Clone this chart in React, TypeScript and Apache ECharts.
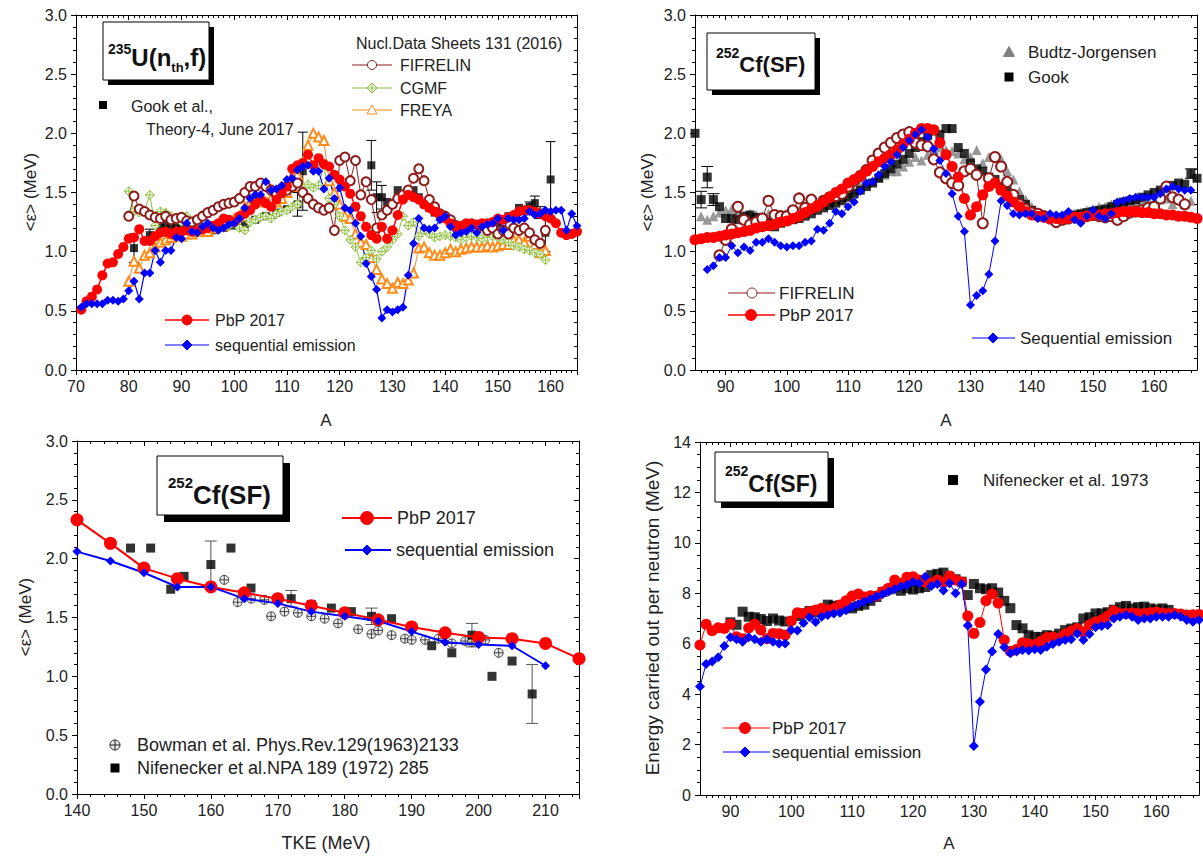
import React, { useEffect, useRef } from "react";
import * as echarts from "echarts";

const FONT = '"Liberation Sans", Arial, Helvetica, sans-serif';
const INK = "#222";
const RED = "#ff0000";
const BLUE = "#0000ff";
const BROWN = "#8c1c1c";
const GREEN = "#8dc03a";
const ORANGE = "#ff8c1a";
const GRAY = "#808080";

// ---------- 235U(nth,f): <eps> vs mass number A ----------
const u235PbP = [[71,0.51],[72,0.58],[73,0.62],[74,0.68],[75,0.80],[76,0.90],[77,0.91],[78,0.98],[79,1.04],[80,1.11],[81,1.12],[82,1.19],[83,1.09],[84,1.09],[85,1.13],[86,1.16],[87,1.17],[88,1.15],[89,1.17],[90,1.17],[91,1.18],[92,1.17],[93,1.18],[94,1.19],[95,1.20],[96,1.22],[97,1.24],[98,1.28],[99,1.27],[100,1.25],[101,1.30],[102,1.32],[103,1.35],[104,1.40],[105,1.44],[106,1.41],[107,1.38],[108,1.44],[109,1.50],[110,1.55],[111,1.70],[112,1.73],[113,1.75],[114,1.82],[115,1.73],[116,1.79],[117,1.74],[118,1.72],[119,1.65],[120,1.61],[121,1.55],[122,1.49],[123,1.38],[124,1.30],[125,1.21],[126,1.14],[127,1.11],[128,1.21],[129,1.11],[130,1.18],[131,1.31],[132,1.44],[133,1.48],[134,1.46],[135,1.44],[136,1.40],[137,1.37],[138,1.34],[139,1.31],[140,1.28],[141,1.24],[142,1.21],[143,1.22],[144,1.24],[145,1.24],[146,1.23],[147,1.24],[148,1.24],[149,1.25],[150,1.28],[151,1.27],[152,1.29],[153,1.31],[154,1.34],[155,1.35],[156,1.35],[157,1.34],[158,1.32],[159,1.30],[160,1.28],[161,1.24],[162,1.16],[163,1.14],[164,1.15],[165,1.17]];
const u235Seq = [[71,0.53],[72,0.56],[73,0.56],[74,0.56],[75,0.56],[76,0.59],[77,0.59],[78,0.58],[79,0.60],[80,0.67],[81,0.75],[82,0.60],[83,0.82],[84,0.82],[85,1.01],[86,0.91],[87,1.01],[88,1.01],[89,1.12],[90,1.11],[91,1.24],[92,1.17],[93,1.16],[94,1.21],[95,1.24],[96,1.20],[97,1.18],[98,1.20],[99,1.23],[100,1.24],[101,1.28],[102,1.37],[103,1.45],[104,1.48],[105,1.48],[106,1.59],[107,1.52],[108,1.53],[109,1.56],[110,1.61],[111,1.62],[112,1.69],[113,1.72],[114,1.73],[115,1.68],[116,1.68],[117,1.53],[118,1.62],[119,1.45],[120,1.54],[121,1.37],[122,1.35],[123,1.24],[124,1.13],[125,0.90],[126,0.79],[127,0.68],[128,0.44],[129,0.51],[130,0.49],[131,0.51],[132,0.53],[133,0.80],[134,1.07],[135,1.28],[136,1.20],[137,1.19],[138,1.20],[139,1.27],[140,1.30],[141,1.21],[142,1.14],[143,1.16],[144,1.17],[145,1.20],[146,1.16],[147,1.21],[148,1.23],[149,1.24],[150,1.28],[151,1.18],[152,1.28],[153,1.27],[154,1.27],[155,1.28],[156,1.34],[157,1.31],[158,1.32],[159,1.35],[160,1.34],[161,1.35],[162,1.35],[163,1.18],[164,1.32],[165,1.22]];
const u235Fifrelin = [[80,1.30],[81,1.47],[82,1.36],[83,1.34],[84,1.31],[85,1.29],[86,1.28],[87,1.30],[88,1.27],[89,1.28],[90,1.29],[91,1.26],[92,1.25],[93,1.27],[94,1.30],[95,1.33],[96,1.35],[97,1.38],[98,1.40],[99,1.41],[100,1.42],[101,1.45],[102,1.50],[103,1.55],[104,1.55],[105,1.58],[106,1.55],[107,1.52],[108,1.48],[109,1.50],[110,1.52],[111,1.55],[112,1.58],[113,1.50],[114,1.45],[115,1.40],[116,1.37],[117,1.35],[118,1.37],[119,1.18],[120,1.77],[121,1.80],[122,1.60],[123,1.77],[124,1.48],[125,1.59],[126,1.44],[127,1.20],[128,1.31],[129,1.35],[130,1.40],[131,1.45],[132,1.48],[133,1.52],[134,1.62],[135,1.70],[136,1.60],[137,1.44],[138,1.38],[139,1.32],[140,1.30],[141,1.27],[142,1.22],[143,1.20],[144,1.22],[145,1.23],[146,1.20],[147,1.22],[148,1.18],[149,1.20],[150,1.15],[151,1.18],[152,1.15],[153,1.20],[154,1.18],[155,1.20],[156,1.16],[157,1.10],[158,1.07],[159,1.18]];
const u235Cgmf = [[80,1.51],[81,1.34],[82,1.33],[83,1.35],[84,1.48],[85,1.22],[86,1.34],[87,1.33],[88,1.30],[89,1.28],[90,1.25],[91,1.30],[92,1.22],[93,1.20],[94,1.22],[95,1.20],[96,1.22],[97,1.22],[98,1.23],[99,1.22],[100,1.24],[101,1.20],[102,1.18],[103,1.25],[104,1.27],[105,1.29],[106,1.30],[107,1.28],[108,1.32],[109,1.34],[110,1.35],[111,1.38],[112,1.40],[113,1.55],[114,1.57],[115,1.54],[116,1.56],[117,1.73],[118,1.45],[119,1.40],[120,1.30],[121,1.18],[122,1.10],[123,1.04],[124,0.91],[125,0.95],[126,1.01],[127,0.94],[128,1.00],[129,1.04],[130,1.10],[131,1.15],[132,1.30],[133,1.22],[134,1.25],[135,1.13],[136,1.18],[137,1.15],[138,1.12],[139,1.13],[140,1.14],[141,1.13],[142,1.12],[143,1.10],[144,1.12],[145,1.13],[146,1.12],[147,1.11],[148,1.12],[149,1.13],[150,1.12],[151,1.10],[152,1.08],[153,1.05],[154,1.04],[155,1.02],[156,1.01],[157,0.99],[158,0.98],[159,0.93]];
const u235Freya = [[80,0.75],[81,0.92],[82,0.86],[83,0.97],[84,0.99],[85,1.04],[86,1.08],[87,1.10],[88,1.12],[89,1.14],[90,1.13],[91,1.15],[92,1.15],[93,1.17],[94,1.18],[95,1.17],[96,1.20],[97,1.21],[98,1.22],[99,1.25],[100,1.28],[101,1.30],[102,1.38],[103,1.40],[104,1.43],[105,1.45],[106,1.42],[107,1.45],[108,1.42],[109,1.45],[110,1.50],[111,1.55],[112,1.65],[113,1.75],[114,1.90],[115,2.00],[116,1.97],[117,1.94],[118,1.60],[119,1.50],[120,1.40],[121,1.30],[122,1.28],[123,1.15],[124,1.08],[125,1.06],[126,0.95],[127,0.85],[128,0.77],[129,0.73],[130,0.69],[131,0.74],[132,0.73],[133,0.76],[134,0.82],[135,1.03],[136,1.04],[137,0.99],[138,0.97],[139,0.97],[140,0.99],[141,1.02],[142,1.00],[143,1.02],[144,1.03],[145,1.04],[146,1.04],[147,1.04],[148,1.05],[149,1.04],[150,1.05],[151,1.06],[152,1.06],[153,1.10],[154,1.10],[155,1.08],[156,1.13],[157,1.06],[158,0.99],[159,1.01]];
// [A, <eps>, uncertainty]
const u235Gook = [[81,1.03,0.12],[84,1.14,0.05],[86,1.20,0],[87,1.24,0],[88,1.22,0],[89,1.20,0],[90,1.21,0],[92,1.21,0],[94,1.18,0],[96,1.18,0],[98,1.20,0],[100,1.22,0],[102,1.23,0],[104,1.27,0],[106,1.30,0],[108,1.33,0],[110,1.36,0],[112,1.40,0.10],[113,1.68,0.33],[126,1.73,0.21],[127,1.46,0.13],[128,1.46,0.10],[129,1.42,0],[130,1.40,0],[131,1.52,0],[132,1.48,0],[133,1.50,0],[134,1.52,0],[135,1.46,0],[136,1.40,0],[137,1.37,0],[138,1.33,0],[140,1.28,0],[142,1.22,0],[144,1.21,0],[146,1.20,0],[148,1.22,0],[150,1.24,0],[152,1.30,0],[154,1.37,0],[156,1.38,0.04],[157,1.41,0.06],[158,1.33,0.05],[159,1.16,0.16],[160,1.61,0.32]];

// ---------- 252Cf(SF): <eps> vs mass number A ----------
const cf252PbP = [[85,1.10],[86,1.11],[87,1.12],[88,1.12],[89,1.13],[90,1.14],[91,1.15],[92,1.16],[93,1.17],[94,1.18],[95,1.20],[96,1.21],[97,1.22],[98,1.23],[99,1.25],[100,1.26],[101,1.28],[102,1.30],[103,1.33],[104,1.36],[105,1.39],[106,1.42],[107,1.46],[108,1.50],[109,1.53],[110,1.58],[111,1.61],[112,1.64],[113,1.68],[114,1.72],[115,1.76],[116,1.79],[117,1.82],[118,1.86],[119,1.91],[120,1.95],[121,2.00],[122,2.04],[123,2.04],[124,2.03],[125,1.92],[126,1.82],[127,1.72],[128,1.63],[129,1.45],[130,1.31],[131,1.38],[132,1.48],[133,1.55],[134,1.58],[135,1.52],[136,1.47],[137,1.42],[138,1.38],[139,1.34],[140,1.31],[141,1.30],[142,1.29],[143,1.28],[144,1.28],[145,1.28],[146,1.28],[147,1.29],[148,1.29],[149,1.30],[150,1.31],[151,1.31],[152,1.32],[153,1.32],[154,1.33],[155,1.34],[156,1.34],[157,1.34],[158,1.33],[159,1.33],[160,1.32],[161,1.32],[162,1.31],[163,1.31],[164,1.30],[165,1.30],[166,1.29],[167,1.28]];
const cf252Seq = [[87,0.85],[88,0.88],[89,0.95],[90,0.95],[91,1.05],[92,0.99],[93,1.04],[94,1.01],[95,1.08],[96,1.08],[97,1.11],[98,1.08],[99,1.05],[100,1.04],[101,1.05],[102,1.05],[103,1.08],[104,1.09],[105,1.19],[106,1.18],[107,1.24],[108,1.34],[109,1.32],[110,1.38],[111,1.42],[112,1.51],[113,1.58],[114,1.59],[115,1.65],[116,1.72],[117,1.76],[118,1.82],[119,1.88],[120,1.94],[121,1.99],[122,2.03],[123,1.97],[124,1.87],[125,1.77],[126,1.66],[127,1.49],[128,1.30],[129,1.17],[130,0.55],[131,0.63],[132,0.67],[133,0.81],[134,1.09],[135,1.43],[136,1.39],[137,1.32],[138,1.31],[139,1.32],[140,1.32],[141,1.28],[142,1.28],[143,1.32],[144,1.31],[145,1.31],[146,1.34],[147,1.27],[148,1.24],[149,1.30],[150,1.35],[151,1.30],[152,1.28],[153,1.32],[154,1.42],[155,1.43],[156,1.45],[157,1.46],[158,1.46],[159,1.46],[160,1.46],[161,1.49],[162,1.53],[163,1.55],[164,1.53],[165,1.52],[166,1.52]];
const cf252Fifrelin = [[89,0.97],[90,1.10],[91,1.19],[92,1.38],[93,1.27],[94,1.23],[95,1.25],[96,1.28],[97,1.43],[98,1.31],[99,1.30],[100,1.30],[101,1.35],[102,1.45],[103,1.37],[104,1.44],[105,1.38],[106,1.43],[107,1.46],[108,1.47],[109,1.49],[110,1.55],[111,1.60],[112,1.64],[113,1.69],[114,1.77],[115,1.83],[116,1.88],[117,1.92],[118,1.96],[119,1.99],[120,2.01],[121,1.92],[122,1.90],[123,1.89],[124,1.78],[125,1.67],[126,1.62],[127,1.58],[128,1.56],[129,1.68],[130,1.70],[131,1.65],[132,1.24],[133,1.62],[134,1.80],[135,1.72],[136,1.59],[137,1.48],[138,1.40],[139,1.36],[140,1.33],[141,1.32],[142,1.30],[143,1.28],[144,1.25],[145,1.27],[146,1.28],[147,1.29],[148,1.28],[149,1.30],[150,1.31],[151,1.30],[152,1.29],[153,1.30],[154,1.27],[155,1.30],[156,1.33],[157,1.34],[158,1.35],[159,1.37],[160,1.38],[161,1.45],[162,1.55],[163,1.46],[164,1.44],[165,1.40]];
const cf252Budtz = [[86,1.30],[87,1.27],[88,1.30],[89,1.33],[90,1.35],[91,1.36],[92,1.33],[93,1.30],[94,1.32],[95,1.31],[96,1.30],[97,1.32],[98,1.30],[99,1.28],[100,1.30],[101,1.32],[102,1.34],[103,1.36],[104,1.38],[105,1.38],[106,1.40],[107,1.42],[108,1.45],[109,1.46],[110,1.48],[111,1.52],[112,1.55],[113,1.58],[114,1.60],[115,1.63],[116,1.65],[117,1.68],[118,1.68],[119,1.72],[120,1.76],[121,1.80],[122,1.77],[123,1.82],[124,1.86],[125,1.88],[126,1.86],[127,1.85],[128,1.83],[129,1.78],[130,1.80],[131,1.86],[132,1.75],[133,1.80],[134,1.81],[135,1.78],[136,1.68],[137,1.61],[138,1.51],[139,1.44],[140,1.38],[141,1.33],[142,1.30],[143,1.30],[144,1.29],[145,1.30],[146,1.31],[147,1.32],[148,1.33],[149,1.35],[150,1.36],[151,1.38],[152,1.38],[153,1.40],[154,1.40],[155,1.42],[156,1.41],[157,1.43],[158,1.42],[159,1.44],[160,1.42],[161,1.44],[162,1.45],[163,1.40],[164,1.44],[165,1.40],[166,1.43]];
const cf252Gook = [[85,2.00,0],[86,1.44,0.07],[87,1.63,0.09],[88,1.44,0.05],[89,1.38,0],[90,1.28,0],[91,1.28,0],[92,1.27,0],[93,1.30,0],[94,1.31,0],[95,1.29,0],[96,1.27,0],[97,1.25,0],[98,1.21,0],[99,1.24,0],[100,1.26,0],[101,1.27,0],[102,1.28,0],[103,1.30,0],[104,1.32,0],[105,1.35,0],[106,1.37,0],[107,1.39,0],[108,1.41,0],[109,1.43,0],[110,1.46,0],[111,1.49,0],[112,1.52,0],[113,1.55,0],[114,1.58,0],[115,1.62,0],[116,1.66,0],[117,1.70,0],[118,1.74,0],[119,1.78,0],[120,1.83,0],[121,1.88,0],[122,1.93,0],[123,1.98,0],[124,2.02,0],[125,1.99,0],[126,2.04,0],[127,2.04,0],[128,1.88,0],[129,1.83,0],[130,1.75,0],[131,1.70,0],[132,1.68,0],[133,1.63,0],[134,1.61,0],[135,1.55,0],[136,1.51,0],[137,1.46,0],[138,1.44,0],[139,1.40,0],[140,1.35,0],[141,1.32,0],[142,1.30,0],[143,1.29,0],[144,1.28,0],[145,1.29,0],[146,1.30,0],[147,1.31,0],[148,1.32,0],[149,1.33,0],[150,1.34,0],[151,1.35,0],[152,1.36,0],[153,1.38,0],[154,1.40,0],[155,1.42,0],[156,1.43,0],[157,1.44,0],[158,1.46,0],[159,1.48,0],[160,1.50,0],[161,1.52,0],[162,1.54,0],[163,1.56,0],[164,1.58,0],[165,1.57,0],[166,1.66,0.04],[167,1.62,0]];

// ---------- 252Cf(SF): <eps> vs TKE ----------
const tkePbP = [[140,2.33],[145,2.13],[150,1.92],[155,1.83],[160,1.76],[165,1.71],[170,1.66],[175,1.60],[180,1.54],[185,1.48],[190,1.42],[195,1.37],[200,1.33],[205,1.32],[210,1.28],[215,1.15]];
const tkeSeq = [[140,2.06],[145,1.98],[150,1.88],[155,1.76],[160,1.76],[165,1.66],[170,1.62],[175,1.55],[180,1.51],[185,1.47],[190,1.38],[195,1.29],[200,1.27],[205,1.26],[210,1.09]];
const tkeBowman = [[162,1.82],[164,1.63],[166,1.66],[168,1.65],[169,1.51],[171,1.55],[173,1.54],[175,1.51],[177,1.49],[179,1.45],[182,1.40],[184,1.36],[185,1.39],[187,1.35],[189,1.32],[190,1.31],[192,1.31],[194,1.32],[196,1.28],[198,1.30],[199,1.29],[201,1.31],[203,1.20]];
const tkeNifenecker = [[148,2.09,0],[151,2.09,0],[154,1.74,0],[156,1.85,0],[160,1.95,0.20],[163,2.09,0],[166,1.75,0],[172,1.66,0.07],[175,1.61,0],[178,1.58,0],[181,1.55,0],[184,1.51,0.07],[187,1.49,0],[193,1.26,0],[196,1.20,0],[199,1.35,0.10],[202,1.00,0],[205,1.13,0],[208,0.85,0.25]];

// ---------- 252Cf(SF): energy carried out per neutron vs A ----------
const ecPbP = [[85,5.95],[86,6.77],[87,6.51],[88,6.63],[89,6.60],[90,6.78],[91,6.28],[92,6.20],[93,6.62],[94,6.77],[95,6.54],[96,6.20],[97,6.41],[98,6.40],[99,6.35],[100,6.90],[101,7.23],[102,7.20],[103,7.27],[104,7.34],[105,7.41],[106,7.34],[107,7.40],[108,7.54],[109,7.70],[110,7.89],[111,7.97],[112,7.85],[113,7.90],[114,7.89],[115,8.06],[116,8.20],[117,8.53],[118,8.40],[119,8.64],[120,8.66],[121,8.53],[122,8.45],[123,8.40],[124,8.53],[125,8.45],[126,8.69],[127,8.53],[128,8.45],[129,7.10],[130,6.41],[131,6.84],[132,7.70],[133,7.97],[134,7.61],[135,6.15],[136,5.70],[137,5.77],[138,6.04],[139,6.00],[140,5.96],[141,6.10],[142,6.25],[143,6.27],[144,6.22],[145,6.39],[146,6.50],[147,6.60],[148,6.47],[149,6.74],[150,6.87],[151,6.94],[152,7.10],[153,7.31],[154,7.20],[155,7.20],[156,7.22],[157,7.20],[158,7.20],[159,7.23],[160,7.26],[161,7.22],[162,7.20],[163,7.20],[164,7.18],[165,7.14],[166,7.15],[167,7.16]];
const ecSeq = [[85,4.30],[86,5.20],[87,5.29],[88,5.46],[89,5.91],[90,6.26],[91,6.18],[92,6.08],[93,6.26],[94,6.18],[95,6.08],[96,6.18],[97,6.08],[98,6.01],[99,6.01],[100,6.54],[101,6.52],[102,6.82],[103,7.05],[104,6.86],[105,7.07],[106,7.14],[107,7.20],[108,7.23],[109,7.33],[110,7.47],[111,7.57],[112,7.67],[113,7.76],[114,7.87],[115,7.96],[116,8.07],[117,8.16],[118,8.27],[119,8.33],[120,8.45],[121,8.40],[122,8.66],[123,8.29],[124,8.37],[125,8.11],[126,8.40],[127,8.00],[128,8.37],[129,6.72],[130,1.94],[131,3.70],[132,4.98],[133,5.69],[134,6.39],[135,5.86],[136,5.62],[137,5.69],[138,5.75],[139,5.73],[140,5.78],[141,5.75],[142,5.88],[143,5.99],[144,6.08],[145,6.15],[146,6.18],[147,6.41],[148,6.15],[149,6.39],[150,6.65],[151,6.70],[152,6.74],[153,7.00],[154,7.07],[155,7.14],[156,7.07],[157,6.94],[158,7.00],[159,7.00],[160,7.07],[161,7.07],[162,7.07],[163,7.14],[164,7.07],[165,6.94],[166,6.87],[167,6.94]];
const ecNifenecker = [[90,6.85],[91,6.75],[92,7.27],[93,7.07],[94,7.05],[95,6.98],[96,6.90],[97,7.00],[98,6.92],[99,6.88],[101,7.10],[102,7.20],[103,7.30],[104,7.25],[105,7.35],[106,7.55],[107,7.50],[108,7.52],[109,7.45],[110,7.40],[111,7.50],[112,7.55],[113,7.70],[114,7.85],[115,8.05],[116,8.15],[117,8.25],[118,8.10],[119,8.20],[120,8.15],[121,8.20],[122,8.25],[123,8.72],[124,8.77],[125,8.82],[126,8.64],[127,8.56],[128,8.46],[129,7.93],[130,8.37],[131,8.20],[132,8.16],[133,8.20],[134,8.03],[135,7.70],[136,7.41],[137,6.74],[138,6.61],[139,6.34],[140,6.27],[141,6.27],[142,6.34],[143,6.30],[144,6.40],[145,6.54],[146,6.60],[147,6.65],[148,7.00],[149,7.05],[150,7.20],[151,7.20],[152,7.25],[153,7.35],[154,7.45],[155,7.50],[156,7.40],[157,7.45],[158,7.47],[159,7.40],[160,7.36],[161,7.40],[162,7.34]];

// tick values
const massTicks = [90, 100, 110, 120, 130, 140, 150, 160];

const CGMF_SYMBOL = "path://M5,0L10,5L5,10L0,5Z M5,0L5,10 M0,5L10,5";
const CROSS_CIRCLE = "path://M0,5A5,5,0,1,1,10,5A5,5,0,1,1,0,5Z M5,0L5,10 M0,5L10,5";

const axisLineStyle = { color: "#000", width: 1 };

function xAxisPair(gi: number, min: number, max: number, interval: number, minorSplit: number, majors?: number[]) {
  const common: any = {
    type: "value", gridIndex: gi, min, max, interval,
    splitLine: { show: false },
    axisLine: { show: true, onZero: false, lineStyle: axisLineStyle },
  };
  const tick = (inside: boolean) => ({
    show: true, inside, length: 5, lineStyle: axisLineStyle,
    ...(majors ? { customValues: majors } : {}),
  });
  const minor = { show: true, splitNumber: minorSplit, length: 3, lineStyle: axisLineStyle };
  return [
    {
      ...common, position: "bottom", axisTick: tick(false), minorTick: minor,
      axisLabel: {
        show: true, color: INK, fontSize: 16, fontFamily: FONT, margin: 8,
        formatter: (v: number) => (v % 10 === 0 ? String(v) : ""),
      },
    },
    { ...common, position: "top", axisTick: tick(true), minorTick: minor, axisLabel: { show: false } },
  ];
}

function yAxisPair(gi: number, min: number, max: number, interval: number, minorSplit: number, fmt: (v: number) => string) {
  const common: any = {
    type: "value", gridIndex: gi, min, max, interval,
    splitLine: { show: false },
    axisLine: { show: true, onZero: false, lineStyle: axisLineStyle },
  };
  const minor = { show: true, splitNumber: minorSplit, length: 3, lineStyle: axisLineStyle };
  return [
    {
      ...common, position: "left",
      axisTick: { show: true, inside: false, length: 5, lineStyle: axisLineStyle },
      minorTick: minor,
      axisLabel: { show: true, color: INK, fontSize: 16, fontFamily: FONT, margin: 9, formatter: fmt },
    },
    {
      ...common, position: "right",
      axisTick: { show: true, inside: true, length: 5, lineStyle: axisLineStyle },
      minorTick: minor, axisLabel: { show: false },
    },
  ];
}

function lineSeries(gi: number, name: string, data: number[][], color: string, symbol: string, size: number, width: number, extra: any = {}) {
  return {
    type: "line", name, xAxisIndex: 2 * gi, yAxisIndex: 2 * gi, data,
    symbol, symbolSize: size,
    lineStyle: { color, width },
    itemStyle: { color, borderWidth: symbol.startsWith("empty") ? 1 : 0 },
    ...extra,
  };
}

function scatterSeries(gi: number, name: string, data: number[][], color: string, symbol: string, size: number, extra: any = {}) {
  return {
    type: "scatter", name, xAxisIndex: 2 * gi, yAxisIndex: 2 * gi, data,
    symbol, symbolSize: size, encode: { x: 0, y: 1 },
    itemStyle: { color },
    ...extra,
  };
}

function errorBars(gi: number, data: number[][], color: string, cap: number) {
  return {
    type: "custom", xAxisIndex: 2 * gi, yAxisIndex: 2 * gi, silent: true,
    data: data.filter((d) => d[2] > 0),
    encode: { x: 0, y: 1 },
    renderItem: (_p: any, api: any) => {
      const x = api.value(0), y = api.value(1), e = api.value(2);
      const hi = api.coord([x, y + e]);
      const lo = api.coord([x, y - e]);
      const st = { stroke: color, lineWidth: 1 };
      return {
        type: "group",
        children: [
          { type: "line", shape: { x1: hi[0], y1: hi[1], x2: lo[0], y2: lo[1] }, style: st },
          { type: "line", shape: { x1: hi[0] - cap, y1: hi[1], x2: hi[0] + cap, y2: hi[1] }, style: st },
          { type: "line", shape: { x1: lo[0] - cap, y1: lo[1], x2: lo[0] + cap, y2: lo[1] }, style: st },
        ],
      };
    },
  };
}

// ---------- graphic helpers ----------
let measureCtx: CanvasRenderingContext2D | null = null;
function measure(t: string, size: number, bold: boolean) {
  if (!measureCtx) measureCtx = document.createElement("canvas").getContext("2d");
  measureCtx!.font = `${bold ? "bold " : ""}${size}px "Liberation Sans", Arial`;
  return measureCtx!.measureText(t).width;
}

function txt(x: number, y: number, text: string, size = 17, opts: any = {}, rotation = 0) {
  const align = opts.align || "left";
  return {
    type: "text", x, y, rotation, z: 50,
    style: {
      text, fontSize: size, fontFamily: FONT, fill: INK,
      align, textAlign: align, verticalAlign: "middle", textVerticalAlign: "middle",
      ...opts,
    },
  };
}
const legLine = (x1: number, x2: number, y: number, color: string, w = 1) => ({
  type: "line", z: 50, shape: { x1, y1: y, x2, y2: y }, style: { stroke: color, lineWidth: w },
});
const legCircle = (cx: number, cy: number, r: number, fill: string, stroke: string) => ({
  type: "circle", z: 51, shape: { cx, cy, r }, style: { fill, stroke, lineWidth: 1 },
});
const legPoly = (points: number[][], fill: string, stroke: string) => ({
  type: "polygon", z: 51, shape: { points }, style: { fill, stroke, lineWidth: 1 },
});
const diamond = (x: number, y: number, r: number) => [[x, y - r], [x + r, y], [x, y + r], [x - r, y]];
const triangle = (x: number, y: number, r: number) => [[x, y - r], [x + r, y + r * 0.8], [x - r, y + r * 0.8]];
const legSquare = (x: number, y: number, s: number, fill: string) => ({
  type: "rect", z: 51, shape: { x: x - s / 2, y: y - s / 2, width: s, height: s }, style: { fill },
});
const seg = (x1: number, y1: number, x2: number, y2: number, color: string) => ({
  type: "line", z: 52, shape: { x1, y1, x2, y2 }, style: { stroke: color, lineWidth: 1 },
});

// boxed reaction label with drop shadow; parts = [text, fontSize, baseline offset]
function titleBox(x: number, y: number, w: number, h: number, sh: number, startX: number, baseline: number, parts: [string, number, number][]) {
  const els: any[] = [
    { type: "rect", z: 60, shape: { x: x + sh, y: y + sh, width: w, height: h }, style: { fill: "#000" } },
    { type: "rect", z: 61, shape: { x, y, width: w, height: h }, style: { fill: "#fff", stroke: "#000", lineWidth: 1 } },
  ];
  let cx = startX;
  for (const [t, size, dy] of parts) {
    els.push({
      type: "text", z: 62, x: cx, y: baseline + dy - 0.35 * size,
      style: {
        text: t, fontSize: size, fontWeight: "bold", fontFamily: FONT, fill: "#111",
        align: "left", textAlign: "left", verticalAlign: "middle", textVerticalAlign: "middle",
      },
    });
    cx += measure(t, size, true);
  }
  return els;
}

function buildOption() {
  const f1 = (v: number) => v.toFixed(1);
  const f0 = (v: number) => String(v);
  const [x0b, x0t] = xAxisPair(0, 70, 165, 10, 10);
  const [x1b, x1t] = xAxisPair(1, 85, 167, 5, 5, massTicks);
  const [x2b, x2t] = xAxisPair(2, 140, 215, 10, 5);
  const [x3b, x3t] = xAxisPair(3, 85, 167, 5, 5, massTicks);
  const [y0l, y0r] = yAxisPair(0, 0, 3, 0.5, 5, f1);
  const [y1l, y1r] = yAxisPair(1, 0, 3, 0.5, 5, f1);
  const [y2l, y2r] = yAxisPair(2, 0, 3, 0.5, 5, f1);
  const [y3l, y3r] = yAxisPair(3, 0, 14, 2, 4, f0);

  const cgmfExtra = { itemStyle: { color: "#fff", borderColor: GREEN, borderWidth: 1 } };
  const bowmanExtra = { itemStyle: { color: "#e6e6e6", borderColor: "#222", borderWidth: 1 } };

  const series: any[] = [
    // 235U
    lineSeries(0, "FREYA", u235Freya, ORANGE, "emptyTriangle", 9, 1),
    lineSeries(0, "CGMF", u235Cgmf, GREEN, CGMF_SYMBOL, 9, 1, cgmfExtra),
    lineSeries(0, "FIFRELIN", u235Fifrelin, BROWN, "emptyCircle", 9, 1),
    errorBars(0, u235Gook, "#000", 5),
    scatterSeries(0, "Gook et al.", u235Gook, "#000", "rect", 8),
    lineSeries(0, "PbP 2017", u235PbP, RED, "circle", 10, 1.5),
    lineSeries(0, "sequential emission", u235Seq, BLUE, "diamond", 9, 1.2),
    // 252Cf vs A
    scatterSeries(1, "Budtz-Jorgensen", cf252Budtz, GRAY, "triangle", 10),
    errorBars(1, cf252Gook, "#000", 6),
    scatterSeries(1, "Gook", cf252Gook, "#000", "rect", 9),
    lineSeries(1, "FIFRELIN", cf252Fifrelin, BROWN, "emptyCircle", 10, 1),
    lineSeries(1, "PbP 2017", cf252PbP, RED, "circle", 11, 1.5),
    lineSeries(1, "Sequential emission", cf252Seq, BLUE, "diamond", 9, 1),
    // 252Cf vs TKE
    scatterSeries(2, "Bowman", tkeBowman, "#e6e6e6", CROSS_CIRCLE, 9, bowmanExtra),
    errorBars(2, tkeNifenecker, "#555", 6),
    scatterSeries(2, "Nifenecker NPA", tkeNifenecker, "#000", "rect", 9),
    lineSeries(2, "PbP 2017", tkePbP, RED, "circle", 13, 2),
    lineSeries(2, "sequential emission", tkeSeq, BLUE, "diamond", 9, 2),
    // energy carried out per neutron
    scatterSeries(3, "Nifenecker 1973", ecNifenecker, "#000", "rect", 10),
    lineSeries(3, "PbP 2017", ecPbP, RED, "circle", 11, 1),
    lineSeries(3, "sequential emission", ecSeq, BLUE, "diamond", 10, 1),
  ];

  const graphics: any[] = [
    // panel titles
    ...titleBox(103, 22, 106, 58, 5, 108, 66, [["235", 14, -12], ["U(n", 24, 0], ["th", 13, 6], [",f)", 24, 0]]),
    ...titleBox(707, 33, 108, 57, 5, 716, 72, [["252", 14, -14], ["Cf(SF)", 22, 0]]),
    ...titleBox(157, 456, 126, 59, 7, 168, 504, [["252", 15, -16], ["Cf(SF)", 26, 0]]),
    ...titleBox(715, 452, 113, 50, 6, 725, 492, [["252", 14, -16], ["Cf(SF)", 23, 0]]),

    // panel 1 legend
    txt(356, 43, "Nucl.Data Sheets 131 (2016)", 16),
    legLine(352, 392, 65, BROWN), legCircle(372, 65, 4.5, "#fff", BROWN), txt(400, 65, "FIFRELIN", 16),
    legLine(352, 392, 88, GREEN), legPoly(diamond(372, 88, 5), "#fff", GREEN),
    seg(372, 83, 372, 93, GREEN), seg(367, 88, 377, 88, GREEN), txt(400, 88, "CGMF", 16),
    legLine(352, 392, 110, ORANGE), legPoly(triangle(372, 110, 5), "#fff", ORANGE), txt(400, 110, "FREYA", 16),
    legSquare(103, 105, 8, "#000"), txt(131, 106, "Gook et al.,", 16), txt(146, 129, "Theory-4, June 2017", 16),
    legLine(165, 209, 320, RED, 1.5), legCircle(187, 320, 5, RED, RED), txt(215, 320, "PbP 2017", 16),
    legLine(165, 209, 345, BLUE, 1.2), legPoly(diamond(187, 345, 5), BLUE, BLUE), txt(215, 345, "sequential emission", 16),

    // panel 2 legend
    legPoly(triangle(1009, 52, 5.5), GRAY, GRAY), txt(1028, 52, "Budtz-Jorgensen", 17),
    legSquare(1009, 77, 9, "#000"), txt(1028, 77, "Gook", 17),
    legLine(728, 775, 293, BROWN), legCircle(752, 293, 5, "#fff", BROWN), txt(779, 293, "FIFRELIN", 17),
    legLine(728, 775, 315, RED, 1.5), legCircle(751, 315, 5.5, RED, RED), txt(779, 315, "PbP 2017", 17),
    legLine(972, 1015, 338, BLUE), legPoly(diamond(993, 338, 5), BLUE, BLUE), txt(1020, 338, "Sequential emission", 17),

    // panel 3 legend
    legLine(342, 392, 518, RED, 2), legCircle(367, 518, 6.5, RED, RED), txt(397, 518, "PbP 2017", 18),
    legLine(345, 391, 550, BLUE, 2), legPoly(diamond(367, 550, 5), BLUE, BLUE), txt(396, 550, "sequential emission", 18),
    legCircle(115, 745, 5, "#e6e6e6", "#222"), seg(115, 740, 115, 750, "#222"), seg(110, 745, 120, 745, "#222"),
    txt(137, 745, "Bowman et al. Phys.Rev.129(1963)2133", 18),
    legSquare(115, 768, 9, "#000"), txt(137, 768, "Nifenecker et al.NPA 189 (1972) 285", 18),

    // panel 4 legend
    legSquare(953, 480, 10, "#000"), txt(983, 480, "Nifenecker et al. 1973", 17),
    legLine(723, 770, 728, RED), legCircle(745, 728, 5.5, RED, RED), txt(772, 728, "PbP 2017", 17),
    legLine(723, 770, 752, BLUE), legPoly(diamond(745, 752, 5), BLUE, BLUE), txt(772, 752, "sequential emission", 17),

    // axis titles
    txt(326, 420, "A", 17, { align: "center" }),
    txt(946, 420, "A", 17, { align: "center" }),
    txt(326, 843, "TKE (MeV)", 18, { align: "center" }),
    txt(949, 843, "A", 17, { align: "center" }),
    txt(30, 192, "<\u03b5> (MeV)", 17, { align: "center" }, Math.PI / 2),
    txt(647, 192, "<\u03b5> (MeV)", 17, { align: "center" }, Math.PI / 2),
    txt(25, 617, "<\u03b5> (MeV)", 17, { align: "center" }, Math.PI / 2),
    txt(652, 618, "Energy carried out per neutron (MeV)", 19, { align: "center" }, Math.PI / 2),
  ];

  return {
    animation: false,
    backgroundColor: "#fff",
    textStyle: { fontFamily: FONT },
    grid: [
      { left: 76, top: 15, width: 501, height: 355 },
      { left: 695, top: 15, width: 502, height: 355 },
      { left: 77, top: 441, width: 502, height: 353 },
      { left: 700, top: 442, width: 499, height: 353 },
    ],
    xAxis: [x0b, x0t, x1b, x1t, x2b, x2t, x3b, x3t],
    yAxis: [y0l, y0r, y1l, y1r, y2l, y2r, y3l, y3r],
    series,
    graphic: { elements: graphics },
  };
}

export default function App() {
  const ref = useRef<HTMLDivElement>(null);
  useEffect(() => {
    const chart = echarts.init(ref.current!, null, { renderer: "svg" });
    chart.setOption(buildOption() as any);
    return () => chart.dispose();
  }, []);
  return (
    <div
      ref={ref}
      style={{ position: "fixed", left: 0, top: 0, width: 1203, height: 857, background: "#fff" }}
    />
  );
}
